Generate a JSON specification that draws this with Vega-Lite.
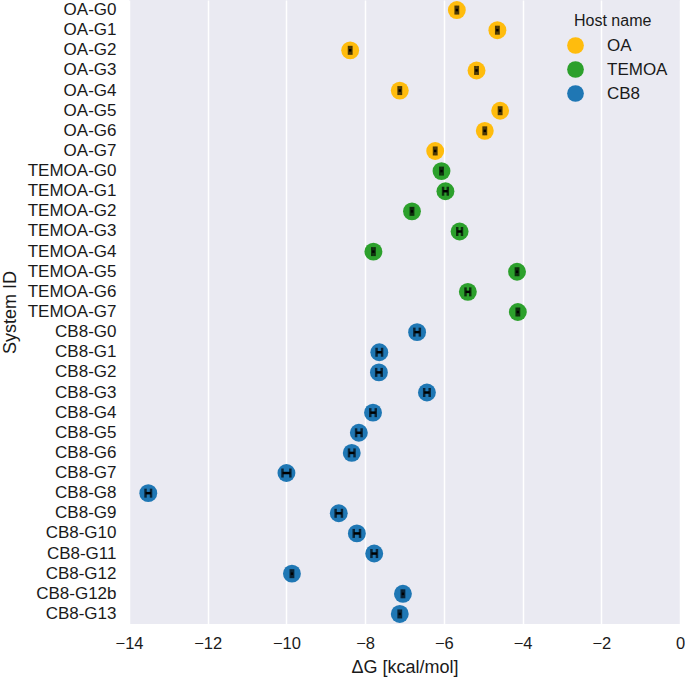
{
  "$schema": "https://vega.github.io/schema/vega-lite/v6.json",
  "width": 685,
  "height": 678,
  "autosize": {"type": "fit", "contains": "padding"},
  "padding": {"left": 1, "top": 0, "right": 0, "bottom": 1},
  "background": "white",
  "data": {
    "values": [
      {"system": "OA-G0", "host": "OA", "dg": -5.67, "lo": -5.70, "hi": -5.64},
      {"system": "OA-G1", "host": "OA", "dg": -4.64, "lo": -4.67, "hi": -4.61},
      {"system": "OA-G2", "host": "OA", "dg": -8.38, "lo": -8.41, "hi": -8.35},
      {"system": "OA-G3", "host": "OA", "dg": -5.17, "lo": -5.20, "hi": -5.14},
      {"system": "OA-G4", "host": "OA", "dg": -7.12, "lo": -7.15, "hi": -7.09},
      {"system": "OA-G5", "host": "OA", "dg": -4.57, "lo": -4.60, "hi": -4.54},
      {"system": "OA-G6", "host": "OA", "dg": -4.96, "lo": -4.99, "hi": -4.93},
      {"system": "OA-G7", "host": "OA", "dg": -6.22, "lo": -6.25, "hi": -6.19},
      {"system": "TEMOA-G0", "host": "TEMOA", "dg": -6.06, "lo": -6.09, "hi": -6.03},
      {"system": "TEMOA-G1", "host": "TEMOA", "dg": -5.96, "lo": -6.02, "hi": -5.90},
      {"system": "TEMOA-G2", "host": "TEMOA", "dg": -6.81, "lo": -6.84, "hi": -6.78},
      {"system": "TEMOA-G3", "host": "TEMOA", "dg": -5.60, "lo": -5.66, "hi": -5.54},
      {"system": "TEMOA-G4", "host": "TEMOA", "dg": -7.79, "lo": -7.82, "hi": -7.76},
      {"system": "TEMOA-G5", "host": "TEMOA", "dg": -4.14, "lo": -4.17, "hi": -4.11},
      {"system": "TEMOA-G6", "host": "TEMOA", "dg": -5.39, "lo": -5.45, "hi": -5.33},
      {"system": "TEMOA-G7", "host": "TEMOA", "dg": -4.12, "lo": -4.15, "hi": -4.09},
      {"system": "CB8-G0", "host": "CB8", "dg": -6.68, "lo": -6.75, "hi": -6.61},
      {"system": "CB8-G1", "host": "CB8", "dg": -7.64, "lo": -7.71, "hi": -7.57},
      {"system": "CB8-G2", "host": "CB8", "dg": -7.65, "lo": -7.72, "hi": -7.58},
      {"system": "CB8-G3", "host": "CB8", "dg": -6.43, "lo": -6.50, "hi": -6.36},
      {"system": "CB8-G4", "host": "CB8", "dg": -7.80, "lo": -7.87, "hi": -7.73},
      {"system": "CB8-G5", "host": "CB8", "dg": -8.16, "lo": -8.23, "hi": -8.09},
      {"system": "CB8-G6", "host": "CB8", "dg": -8.34, "lo": -8.41, "hi": -8.27},
      {"system": "CB8-G7", "host": "CB8", "dg": -10.0, "lo": -10.10, "hi": -9.90},
      {"system": "CB8-G8", "host": "CB8", "dg": -13.51, "lo": -13.58, "hi": -13.44},
      {"system": "CB8-G9", "host": "CB8", "dg": -8.67, "lo": -8.75, "hi": -8.59},
      {"system": "CB8-G10", "host": "CB8", "dg": -8.21, "lo": -8.29, "hi": -8.13},
      {"system": "CB8-G11", "host": "CB8", "dg": -7.77, "lo": -7.84, "hi": -7.70},
      {"system": "CB8-G12", "host": "CB8", "dg": -9.86, "lo": -9.89, "hi": -9.83},
      {"system": "CB8-G12b", "host": "CB8", "dg": -7.04, "lo": -7.07, "hi": -7.01},
      {"system": "CB8-G13", "host": "CB8", "dg": -7.12, "lo": -7.15, "hi": -7.09}
    ]
  },
  "encoding": {
    "y": {
      "field": "system",
      "type": "nominal",
      "sort": null,
      "scale": {"type": "band", "paddingInner": 0, "paddingOuter": 0},
      "axis": {
        "title": "System ID",
        "titleFontSize": 18,
        "titleFontWeight": "normal",
        "titlePadding": 8,
        "labelFontSize": 17,
        "labelPadding": 13,
        "ticks": false,
        "tickSize": 0,
        "domain": false,
        "grid": false
      }
    }
  },
  "layer": [
    {
      "mark": {"type": "circle", "size": 320, "opacity": 1},
      "encoding": {
        "x": {
          "field": "dg",
          "type": "quantitative",
          "title": "ΔG [kcal/mol]",
          "scale": {"domain": [-14, 0], "nice": false, "zero": false},
          "axis": {
            "title": "ΔG [kcal/mol]",
            "titleFontSize": 18,
            "titleFontWeight": "normal",
            "titlePadding": 7,
            "labelFontSize": 16.5,
            "labelPadding": 11,
            "values": [-14, -12, -10, -8, -6, -4, -2, 0],
            "ticks": false,
            "tickSize": 0,
            "domain": false,
            "grid": true,
            "gridColor": "white",
            "gridWidth": 1.5,
            "labelFlush": false
          }
        },
        "color": {
          "field": "host",
          "type": "nominal",
          "scale": {"domain": ["OA", "TEMOA", "CB8"], "range": ["#ffbc0d", "#2ca02c", "#1f77b4"]},
          "legend": {
            "title": "Host name",
            "orient": "none",
            "legendX": 445,
            "legendY": 13,
            "padding": 0,
            "titleFontSize": 16,
            "titleFontWeight": "normal",
            "titlePadding": 7,
            "labelFontSize": 17,
            "symbolSize": 280,
            "symbolType": "circle",
            "symbolOffset": -8,
            "labelOffset": 22,
            "rowPadding": 6
          }
        }
      }
    },
    {
      "mark": {
        "type": "errorbar",
        "color": "black",
        "thickness": 2.5,
        "ticks": {"size": 9, "thickness": 2.5, "color": "black"}
      },
      "encoding": {
        "x": {"field": "lo", "type": "quantitative", "title": "ΔG [kcal/mol]"},
        "x2": {"field": "hi"}
      }
    }
  ],
  "config": {
    "font": "Liberation Sans",
    "view": {"fill": "#eaeaf2", "stroke": null},
    "axis": {"labelColor": "#1a1a1a", "titleColor": "#1a1a1a"},
    "legend": {"labelColor": "#1a1a1a", "titleColor": "#1a1a1a"}
  }
}
